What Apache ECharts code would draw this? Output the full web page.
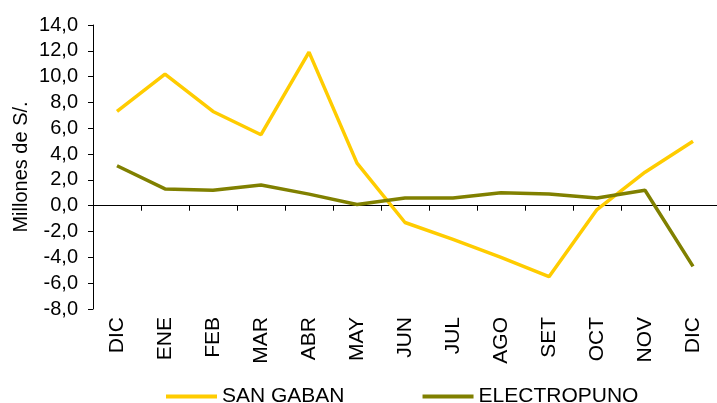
<html>
<head>
<meta charset="utf-8">
<title></title>
<script src="https://cdn.jsdelivr.net/npm/echarts@6/dist/echarts.min.js"></script>
</head>
<body style="margin:0">
<div id="main" style="width:717px;height:403px;"></div>
<script type="text/javascript">
var meses = ['DIC', 'ENE', 'FEB', 'MAR', 'ABR', 'MAY', 'JUN', 'JUL', 'AGO', 'SET', 'OCT', 'NOV', 'DIC'];
var sanGaban = [7.3, 10.2, 7.3, 5.5, 11.9, 3.3, -1.3, -2.6, -4.0, -5.5, -0.3, 2.6, 5.0];
var electropuno = [3.1, 1.3, 1.2, 1.6, 0.9, 0.1, 0.6, 0.6, 1.0, 0.9, 0.6, 1.2, -4.7];
var nombres = ['SAN GABAN', 'ELECTROPUNO'];

var font = 'Liberation Sans, Arial, sans-serif';
var myChart = echarts.init(document.getElementById('main'));
myChart.setOption({
    animation: false,
    grid: { left: 93, top: 25, bottom: 94, right: -11 },
    legend: {
        data: nombres,
        icon: 'rect',
        left: 161,
        top: 381,
        itemWidth: 51,
        itemHeight: 4,
        itemGap: 78,
        textStyle: { fontFamily: font, fontSize: 21, color: '#000' }
    },
    xAxis: [
        {
            type: 'category',
            data: meses,
            axisLine: { onZero: true, lineStyle: { color: '#000', width: 1 } },
            axisTick: { show: true, length: 5, lineStyle: { color: '#000' } },
            axisLabel: { show: false }
        },
        {
            type: 'category',
            data: meses,
            position: 'bottom',
            axisLine: { show: false, onZero: false },
            axisTick: { show: false },
            axisLabel: { rotate: 90, margin: 8, fontFamily: font, fontSize: 21, color: '#000' }
        }
    ],
    yAxis: {
        type: 'value',
        min: -8,
        max: 14,
        interval: 2,
        name: 'Millones de S/.',
        nameLocation: 'middle',
        nameGap: 62,
        nameMoveOverlap: false,
        nameTextStyle: { fontFamily: font, fontSize: 20, color: '#000' },
        axisLine: { show: true, onZero: false, lineStyle: { color: '#000' } },
        axisTick: { show: true, length: 5, lineStyle: { color: '#000' } },
        splitLine: { show: false },
        axisLabel: {
            margin: 15,
            fontFamily: font,
            fontSize: 20,
            color: '#000',
            formatter: function (v) { return v.toFixed(1).replace('.', ','); }
        }
    },
    series: [
        {
            name: nombres[0],
            type: 'line',
            data: sanGaban,
            symbol: 'none',
            lineStyle: { color: '#FFCC00', width: 3.5 },
            itemStyle: { color: '#FFCC00' }
        },
        {
            name: nombres[1],
            type: 'line',
            data: electropuno,
            symbol: 'none',
            lineStyle: { color: '#808000', width: 3.5 },
            itemStyle: { color: '#808000' }
        }
    ]
});
</script>
</body>
</html>
